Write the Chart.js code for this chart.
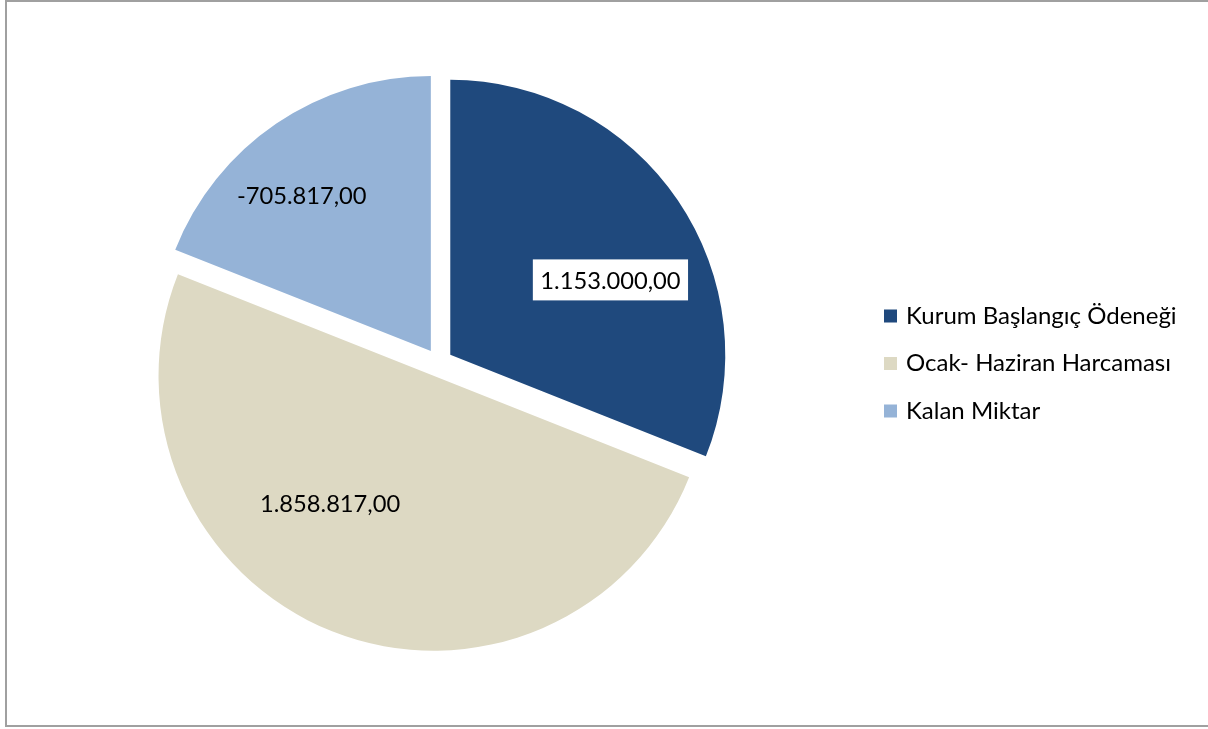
<!DOCTYPE html>
<html>
<head>
<meta charset="utf-8">
<script src="https://cdn.jsdelivr.net/npm/chart.js@4.4.1/dist/chart.umd.min.js"></script>
<style>
    html, body { margin: 0; padding: 0; background: #ffffff; }
    #wrap { width: 1208px; height: 729px; }
</style>
</head>
<body>
<div id="wrap"><canvas id="budget-chart" width="1208" height="729"></canvas></div>
<script>
const labels = ['Kurum Başlangıç Ödeneği', 'Ocak- Haziran Harcaması', 'Kalan Miktar'];
const values = [1153000, 1858817, -705817];
const colors = ['#1f497d', '#ddd9c3', '#95b3d7'];

// 1234567.5 -> "1.234.567,50"
function formatTr(v) {
    const sign = v < 0 ? '-' : '';
    const parts = Math.abs(v).toFixed(2).split('.');
    const intPart = parts[0].replace(/\B(?=(\d{3})+(?!\d))/g, '.');
    return sign + intPart + ',' + parts[1];
}

// pulls every slice out from the centre (Excel style explosion)
const explodePlugin = {
    id: 'explode',
    afterDatasetsUpdate(chart, args, opts) {
        chart.getDatasetMeta(0).data.forEach(arc => {
            const mid = (arc.startAngle + arc.endAngle) / 2;
            arc.x += Math.cos(mid) * opts.distance;
            arc.y += Math.sin(mid) * opts.distance;
        });
    }
};

const framePlugin = {
    id: 'frame',
    beforeDraw(chart) {
        const ctx = chart.ctx;
        ctx.save();
        ctx.strokeStyle = '#a0a0a0';
        ctx.lineWidth = 2;
        ctx.strokeRect(6, 1, chart.width + 10, 725);
        ctx.restore();
    }
};

const valueLabelPlugin = {
    id: 'valueLabels',
    afterDatasetsDraw(chart, args, opts) {
        const ctx = chart.ctx;
        const meta = chart.getDatasetMeta(0);
        ctx.save();
        ctx.font = opts.font;
        ctx.textAlign = 'center';
        ctx.textBaseline = 'middle';
        meta.data.forEach((arc, i) => {
            const place = opts.placement[i];
            const a = (arc.startAngle + arc.endAngle) / 2 + place.shift * Math.PI / 180;
            const d = arc.outerRadius * place.r;
            const x = arc.x + Math.cos(a) * d;
            const y = arc.y + Math.sin(a) * d;
            const text = formatTr(chart.data.datasets[0].data[i]);
            if (place.box) {
                const w = ctx.measureText(text).width + 15;
                ctx.fillStyle = '#ffffff';
                ctx.fillRect(x - w / 2, y - 20.5, w, 41);
            }
            ctx.fillStyle = '#000000';
            ctx.fillText(text, x, y + 1);
        });
        ctx.restore();
    }
};

const legendPlugin = {
    id: 'sideLegend',
    afterDraw(chart, args, opts) {
        const ctx = chart.ctx;
        ctx.save();
        ctx.font = opts.font;
        ctx.textBaseline = 'middle';
        ctx.textAlign = 'left';
        chart.data.labels.forEach((label, i) => {
            const y = opts.top + i * opts.rowHeight;
            ctx.fillStyle = chart.data.datasets[0].backgroundColor[i];
            ctx.fillRect(opts.left, y - 6.5, 13, 13);
            ctx.fillStyle = '#000000';
            ctx.fillText(label, opts.left + 22, y);
        });
        ctx.restore();
    }
};

new Chart(document.getElementById('budget-chart'), {
    type: 'pie',
    data: {
        labels: labels,
        datasets: [{
            data: values,
            backgroundColor: colors,
            borderWidth: 0
        }]
    },
    options: {
        responsive: false,
        animation: false,
        radius: 275,
        layout: {
            padding: { left: 0, right: 330.6, top: 0, bottom: 3.6 }
        },
        plugins: {
            legend: { display: false },
            tooltip: { enabled: false },
            explode: { distance: 14 },
            valueLabels: {
                font: '23.7px Lato',
                placement: [
                    { r: 0.643, shift: 9.1, box: true },
                    { r: 0.597, shift: 17.4, box: false },
                    { r: 0.737, shift: -5.4, box: false }
                ]
            },
            sideLegend: {
                font: '24px Lato',
                left: 884,
                top: 316,
                rowHeight: 47.5
            }
        }
    },
    plugins: [framePlugin, explodePlugin, valueLabelPlugin, legendPlugin]
});
</script>
</body>
</html>
